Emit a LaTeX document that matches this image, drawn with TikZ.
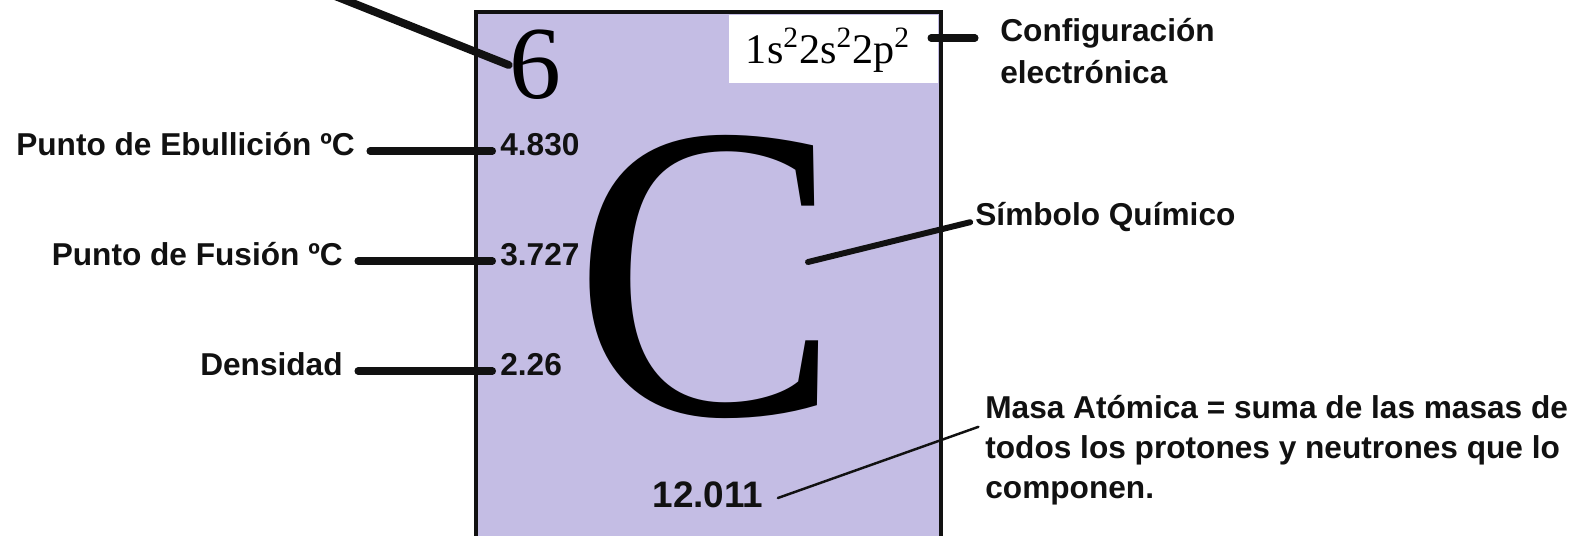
\documentclass[tikz,border=0pt]{standalone}
\usepackage{fontspec}
\setmainfont{Liberation Sans}
\newfontfamily\romanfont{Liberation Serif}
\usetikzlibrary{positioning}
\definecolor{lavanda}{RGB}{196,189,228}
\definecolor{tinta}{RGB}{17,17,17}

\begin{document}
\begin{tikzpicture}[x=0.02cm, y=-0.02cm, font=\fontsize{18}{22.7}\selectfont\bfseries,
    etiqueta/.style={inner sep=0pt, text=tinta, text height=0.75em, text depth=0.2em},
    guia/.style={draw=tinta, line width=4pt, line cap=round},
    guiafina/.style={draw=tinta, line width=1.4pt, line cap=round}]
    \useasboundingbox (0,0) rectangle (1581,535);
    \clip (0,0) rectangle (1581,535);
    \fill[white] (0,0) rectangle (1581,535);

    % casilla del elemento
    \draw[fill=lavanda, draw=tinta, line width=2.3pt] (476,12) rectangle (941,570);
    \fill[white] (729,15) rectangle (938,83);
    \node[inner sep=0pt] (config) at (828,50)
        {\romanfont\mdseries\fontsize{24}{24}\selectfont 1s\textsuperscript{2}2s\textsuperscript{2}2p\textsuperscript{2}};
    \node[inner sep=0pt] (numat) at (535,65) {\romanfont\mdseries\fontsize{59}{59}\selectfont 6};
    \node[inner sep=0pt] (simbolo) at (707,277)
        {\scalebox{0.95}[1]{\romanfont\mdseries\fontsize{240}{240}\selectfont C}};
    \node[etiqueta, font=\fontsize{21}{21}\selectfont\bfseries] (masaval) at (708,503) {12.011};

    % propiedades a la izquierda
    \foreach \i/\lbl/\lx/\val/\y in {
        ebu/{Punto de Ebullición ºC}/355/4.830/151,
        fus/{Punto de Fusión ºC}/343/3.727/261,
        den/{Densidad}/343/2.26/371}
    {
        \node[etiqueta, anchor=east] (\i) at (\lx,\y) {\lbl};
        \node[etiqueta, anchor=west] (\i val) at (500,\y) {\val};
        \draw[guia, shorten <=0.3cm, shorten >=0.15cm] (\i.east) -- (\i val.west);
    }

    % etiquetas de la derecha
    \node[inner sep=0pt, anchor=west, align=left, text=tinta,
        font=\fontsize{18}{23.8}\selectfont\bfseries] (cfglbl) at (1000,51)
        {Configuración\\electrónica};
    \node[etiqueta, anchor=west] (simlbl) at (975,221) {Símbolo Químico};
    \node[inner sep=0pt, anchor=west, align=left, text=tinta] (masalbl) at (985,450)
        {Masa Atómica = suma de las masas de\\todos los protones y neutrones que lo\\componen.};

    \coordinate (numorigen) at (335,-4);
    \coordinate (cfgborde) at (931,38);
    \coordinate (csym) at (808,262);
    \draw[guia, line width=4.5pt] (numorigen) -- (numat.west);
    \draw[guia] (cfgborde) -- (cfgborde -| cfglbl.west) [shorten >=0.5cm];
    \draw[guia, line width=3.4pt, shorten >=0.1cm] (csym) -- (simlbl.west);
    \draw[guiafina, shorten <=0.3cm, shorten >=0.14cm] (masaval.east) -- (masalbl.175);
\end{tikzpicture}
\end{document}
